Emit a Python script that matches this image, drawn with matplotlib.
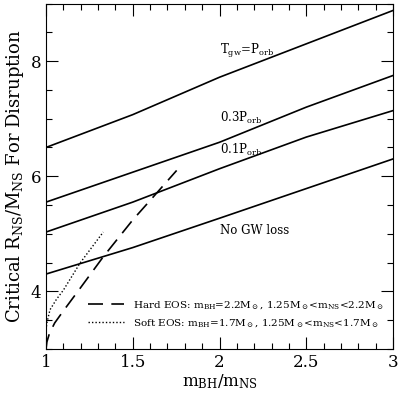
import matplotlib
matplotlib.use("Agg")
import matplotlib.pyplot as plt

plt.rcParams['font.family'] = 'DejaVu Serif'
plt.rcParams['mathtext.fontset'] = 'dejavuserif'

# mass ratio samples for the disruption curves
q = [1.0, 1.5, 2.0, 2.5, 3.0]
r_tgw = [6.50, 7.07, 7.72, 8.30, 8.88]
r_03p = [5.55, 6.07, 6.59, 7.20, 7.75]
r_01p = [5.03, 5.55, 6.13, 6.68, 7.14]
r_nogw = [4.30, 4.76, 5.27, 5.785, 6.30]

# EOS tracks
q_hard = [1.0, 1.005, 1.02, 1.05, 1.10, 1.196, 1.33, 1.5, 1.618, 1.753]
r_hard = [3.0, 3.12, 3.27, 3.45, 3.66, 4.05, 4.60, 5.24, 5.64, 6.10]
q_soft = [1.0, 1.005, 1.023, 1.06, 1.10, 1.196, 1.33]
r_soft = [3.33, 3.45, 3.68, 3.86, 4.02, 4.49, 5.03]

curve_labels = [r'T$_{\rm gw}$=P$_{\rm orb}$', r'0.3P$_{\rm orb}$', r'0.1P$_{\rm orb}$', 'No GW loss']
label_y = [8.18, 7.02, 6.45, 5.05]

fig = plt.figure(figsize=(4.0, 3.96), dpi=100)
ax = fig.add_axes([0.115, 0.119, 0.8675, 0.872])

for r in [r_tgw, r_03p, r_01p, r_nogw]:
    ax.plot(q, r, 'k-', lw=1.2)

ax.plot(q_hard, r_hard, color='k', lw=1.2, dashes=(9, 5),
        label=r'Hard EOS: m$_{\rm BH}$=2.2M$_\odot$, 1.25M$_\odot$<m$_{\rm NS}$<2.2M$_\odot$')
ax.plot(q_soft, r_soft, color='k', lw=1.0, dashes=(1, 1.5),
        label=r'Soft EOS: m$_{\rm BH}$=1.7M$_\odot$, 1.25M$_\odot$<m$_{\rm NS}$<1.7M$_\odot$')

for lab, yy in zip(curve_labels, label_y):
    ax.text(2.0, yy, lab, ha='left', va='center', fontsize=8.5)

ax.set_xlim(1, 3)
ax.set_ylim(3, 9)
ax.set_xticks([1, 1.5, 2, 2.5, 3])
ax.set_xticklabels(['1', '1.5', '2', '2.5', '3'])
ax.set_xticks([1 + 0.1 * i for i in range(21)], minor=True)
ax.set_yticks([4, 6, 8])
ax.set_yticks([3 + 0.5 * i for i in range(13)], minor=True)
ax.tick_params(which='both', direction='in', top=True, right=True, labelsize=12)
ax.tick_params(which='major', length=8.5, width=0.8)
ax.tick_params(which='minor', length=4.3, width=0.8)

ax.set_xlabel(r'm$_{\rm BH}$/m$_{\rm NS}$', fontsize=12, labelpad=1)
ax.set_ylabel(r'Critical R$_{\rm NS}$/M$_{\rm NS}$ For Disruption', fontsize=13, labelpad=3)

ax.legend(loc='lower right', frameon=False, fontsize=7.5, handlelength=3.4,
          handletextpad=0.9, labelspacing=0.55, bbox_to_anchor=(1.0, 0.03))

fig.savefig('out.png', dpi=100)
